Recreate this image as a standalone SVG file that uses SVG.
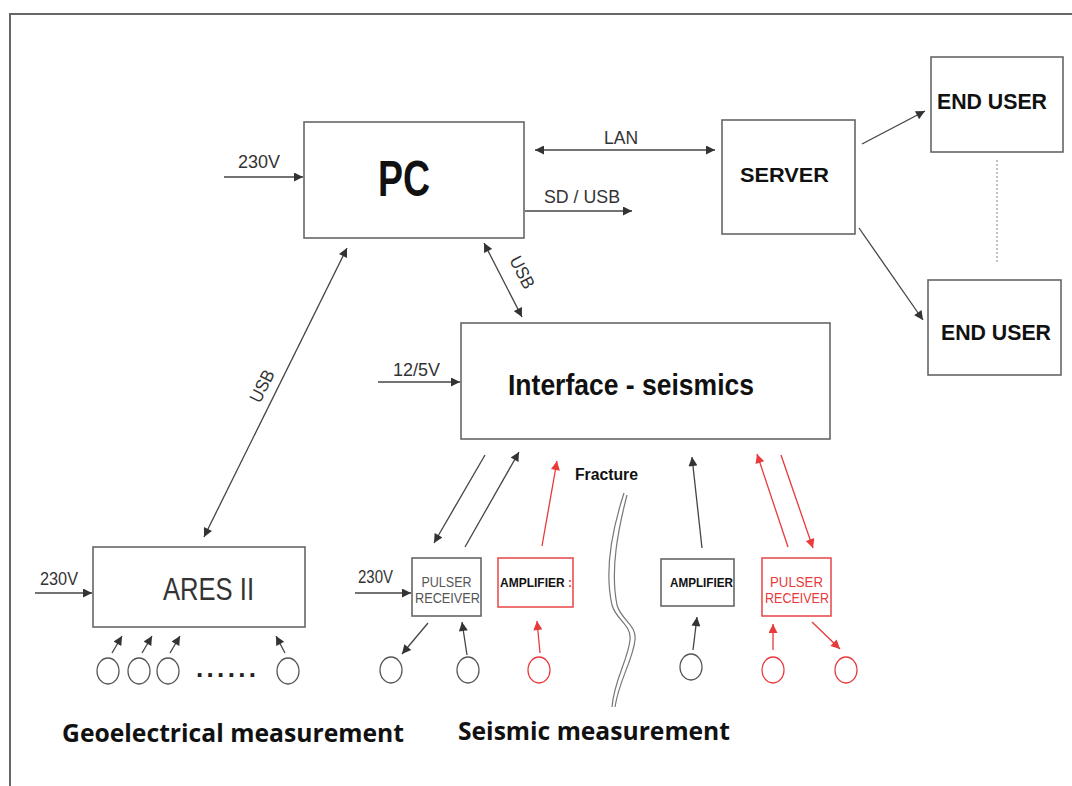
<svg xmlns="http://www.w3.org/2000/svg" width="1072" height="786" viewBox="0 0 1072 786">
<style>
.box{fill:#fff;stroke:#666;stroke-width:1.6}
.rbox{fill:#fff;stroke:#e8504f;stroke-width:1.6}
.ln{fill:none;stroke:#444;stroke-width:1.3}
.ar{fill:none;stroke:#444;stroke-width:1.3;marker-end:url(#ah)}
.ar2{fill:none;stroke:#444;stroke-width:1.3;marker-end:url(#ah);marker-start:url(#ah)}
.rar{fill:none;stroke:#e8393b;stroke-width:1.3;marker-end:url(#rh)}
.lbl{font-family:"Liberation Sans",Arial,sans-serif;font-size:18px;fill:#333}
.bt{font-family:"Liberation Sans",Arial,sans-serif;font-weight:bold;fill:#111}
.cap{font-family:"Open Sans","Liberation Sans",sans-serif;font-weight:bold;font-size:25px;fill:#111}
.c{fill:#fff;stroke:#555;stroke-width:1.3}
.rc{fill:#fff;stroke:#e8393b;stroke-width:1.3}
.sm{font-family:"Liberation Sans",Arial,sans-serif;font-size:14px}
</style>
<defs>
<marker id="ah" viewBox="0 0 10 10" refX="10" refY="5" markerWidth="11" markerHeight="9" markerUnits="userSpaceOnUse" orient="auto-start-reverse"><path d="M0,0 L10,5 L0,10 z" fill="#333"/></marker>
<marker id="rh" viewBox="0 0 10 10" refX="10" refY="5" markerWidth="11" markerHeight="9" markerUnits="userSpaceOnUse" orient="auto-start-reverse"><path d="M0,0 L10,5 L0,10 z" fill="#e8393b"/></marker>
</defs>
<rect width="1072" height="786" fill="#fff"/>
<path d="M10,786 L10,14 L1072,14" fill="none" stroke="#666" stroke-width="2"/>

<g id="connectors">
<line class="ar" x1="224" y1="177" x2="303" y2="177"/>
<text class="lbl" x="238" y="168" textLength="42" lengthAdjust="spacingAndGlyphs">230V</text>
<line class="ar2" x1="535" y1="150" x2="715" y2="150"/>
<text class="lbl" x="604" y="144" textLength="34" lengthAdjust="spacingAndGlyphs">LAN</text>
<line class="ar" x1="525" y1="211" x2="632" y2="211"/>
<text class="lbl" x="544" y="203" textLength="76" lengthAdjust="spacingAndGlyphs">SD / USB</text>
<line class="ar2" x1="484" y1="243" x2="522" y2="317"/>
<text class="lbl" transform="translate(509,260) rotate(62.8)" textLength="34" lengthAdjust="spacingAndGlyphs">USB</text>
<line class="ar" x1="862" y1="144" x2="925" y2="111"/>
<line class="ar" x1="859" y1="228" x2="923" y2="320"/>
<line x1="997" y1="160" x2="997" y2="263" stroke="#999" stroke-width="1.2" stroke-dasharray="2,2"/>
<line class="ar2" x1="347" y1="248" x2="204" y2="537"/>
<text class="lbl" transform="translate(260,404) rotate(-63.7)" textLength="34" lengthAdjust="spacingAndGlyphs">USB</text>
<line class="ar" x1="378" y1="382" x2="460" y2="382"/>
<text class="lbl" x="393" y="376" textLength="47" lengthAdjust="spacingAndGlyphs">12/5V</text>
<line class="ar" x1="35" y1="593" x2="92" y2="593"/>
<text class="lbl" x="40" y="585" textLength="38" lengthAdjust="spacingAndGlyphs">230V</text>
<line class="ar" x1="112" y1="653" x2="122" y2="636"/>
<line class="ar" x1="142" y1="653" x2="152" y2="636"/>
<line class="ar" x1="170" y1="653" x2="180" y2="636"/>
<line class="ar" x1="285" y1="653" x2="276" y2="636"/>
<line class="ar" x1="355" y1="593" x2="411" y2="593"/>
<text class="lbl" x="358" y="583" textLength="35" lengthAdjust="spacingAndGlyphs">230V</text>
<line class="ar" x1="485" y1="455" x2="434" y2="543"/>
<line class="ar" x1="465" y1="547" x2="519" y2="452"/>
<line class="rar" x1="542" y1="546" x2="557" y2="461"/>
<line class="ar" x1="702" y1="548" x2="692" y2="457"/>
<line class="rar" x1="788" y1="547" x2="757" y2="454"/>
<line class="rar" x1="781" y1="455" x2="813" y2="548"/>
<line class="ar" x1="428" y1="623" x2="402" y2="654"/>
<line class="ar" x1="467" y1="655" x2="462" y2="622"/>
<line class="rar" x1="540" y1="653" x2="537" y2="621"/>
<line class="ar" x1="693" y1="650" x2="697" y2="617"/>
<line class="rar" x1="773" y1="650" x2="773" y2="624"/>
<line class="rar" x1="812" y1="622" x2="840" y2="649"/>
</g>

<g id="pc"><rect class="box" x="304" y="122" width="220" height="116"/><text class="bt" x="378" y="196" font-size="50" textLength="52" lengthAdjust="spacingAndGlyphs">PC</text></g>
<g id="server"><rect class="box" x="722" y="120" width="133" height="114"/><text class="bt" x="740" y="182" font-size="21" textLength="89" lengthAdjust="spacingAndGlyphs">SERVER</text></g>
<g id="enduser1"><rect class="box" x="931" y="57" width="132" height="95"/><text class="bt" x="937" y="109" font-size="22" textLength="110" lengthAdjust="spacingAndGlyphs">END USER</text></g>
<g id="enduser2"><rect class="box" x="928" y="280" width="133" height="95"/><text class="bt" x="941" y="340" font-size="22" textLength="110" lengthAdjust="spacingAndGlyphs">END USER</text></g>
<g id="interface"><rect class="box" x="461" y="323" width="369" height="116"/><text class="bt" x="508" y="395" font-size="30" textLength="246" lengthAdjust="spacingAndGlyphs">Interface - seismics</text></g>
<g id="ares"><rect class="box" x="93" y="547" width="212" height="80"/><text x="163" y="600" font-family="'Liberation Sans',Arial,sans-serif" font-size="31" fill="#333" textLength="91" lengthAdjust="spacingAndGlyphs">ARES II</text></g>
<g id="ares-electrodes">
<ellipse class="c" cx="108" cy="671" rx="11" ry="13"/>
<ellipse class="c" cx="139" cy="671" rx="11" ry="13"/>
<ellipse class="c" cx="168" cy="671" rx="11" ry="13"/>
<ellipse class="c" cx="288" cy="671" rx="11" ry="13"/>
<text x="196" y="677" font-family="'Liberation Sans',Arial,sans-serif" font-weight="bold" font-size="26" fill="#222" textLength="60" lengthAdjust="spacing">......</text>
</g>
<g id="pulser1"><rect class="box" x="412" y="558" width="69" height="58"/>
<text class="sm" x="446.5" y="587" text-anchor="middle" fill="#555" textLength="50" lengthAdjust="spacingAndGlyphs">PULSER</text>
<text class="sm" x="447.5" y="603" text-anchor="middle" fill="#555" textLength="65" lengthAdjust="spacingAndGlyphs">RECEIVER</text></g>
<g id="amp1"><rect class="rbox" x="498" y="558" width="75" height="49"/>
<text class="bt" x="500" y="587" font-size="12" textLength="72" lengthAdjust="spacingAndGlyphs">AMPLIFIER <tspan fill="#e8393b">:</tspan></text></g>
<g id="amp2"><rect class="box" x="661" y="559" width="73" height="47"/>
<text class="bt" x="670" y="587" font-size="12" textLength="63" lengthAdjust="spacingAndGlyphs">AMPLIFIER</text></g>
<g id="pulser2"><rect class="rbox" x="762" y="558" width="69" height="58"/>
<text class="sm" x="796.5" y="587" text-anchor="middle" fill="#e8393b" textLength="53" lengthAdjust="spacingAndGlyphs">PULSER</text>
<text class="sm" x="797" y="603" text-anchor="middle" fill="#e8393b" textLength="64" lengthAdjust="spacingAndGlyphs">RECEIVER</text></g>
<g id="sensors">
<ellipse class="c" cx="391" cy="670" rx="11" ry="13"/>
<ellipse class="c" cx="468" cy="670" rx="11" ry="13"/>
<ellipse class="rc" cx="539" cy="670" rx="11" ry="13"/>
<ellipse class="c" cx="691" cy="667" rx="11" ry="13"/>
<ellipse class="rc" cx="773" cy="670" rx="11" ry="13"/>
<ellipse class="rc" cx="846" cy="670" rx="11" ry="13"/>
</g>
<g id="fracture">
<text class="bt" x="575" y="480" font-size="16" textLength="63" lengthAdjust="spacingAndGlyphs">Fracture</text>
<path d="M624,493 C612,530 604,570 612,605 C616,620 632,625 630,640 C628,660 614,680 612,707" fill="none" stroke="#777" stroke-width="1.2"/>
<path d="M627,495 C618,530 610,570 617,605 C621,620 637,625 635,640 C633,660 619,680 615,707" fill="none" stroke="#777" stroke-width="1.2"/>
</g>
<g id="captions">
<text class="cap" x="62" y="742" textLength="342" lengthAdjust="spacingAndGlyphs">Geoelectrical measurement</text>
<text class="cap" x="458" y="740" textLength="272" lengthAdjust="spacingAndGlyphs">Seismic measurement</text>
</g>
</svg>
